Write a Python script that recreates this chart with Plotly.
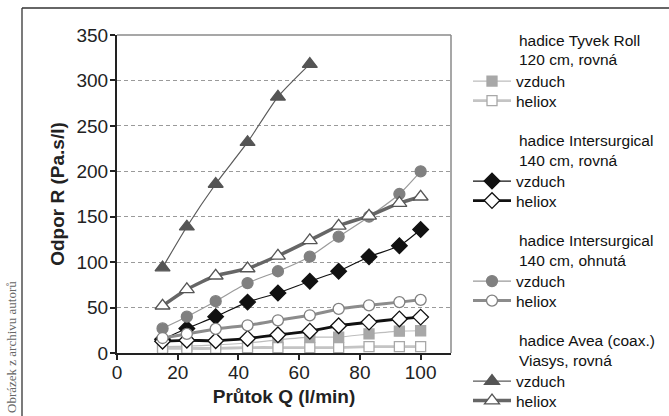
import plotly.graph_objects as go

# ---------------- data ----------------
flow = [15, 23, 32.5, 43, 53, 63.5, 73, 83, 93, 100]
flow_avea_air = [15, 23, 32.5, 43, 53, 63.5]

tyvek_air = [7, 7.5, 9, 11, 14.5, 17.5, 17.5, 21, 24, 24.5]
tyvek_heliox = [5, 5, 5, 6, 6, 6, 6, 7, 7, 7]
inter_straight_air = [15, 27, 40, 56, 66, 79, 90, 106, 118, 136]
inter_straight_heliox = [13, 14, 13.5, 16, 20, 24, 30, 34, 37.5, 39.5]
inter_bent_air = [27, 40, 57, 77, 90, 106, 128, 150, 175, 200]
inter_bent_heliox = [16.5, 21, 26.5, 30.5, 36, 41.5, 48.5, 52.5, 56, 58.5]
avea_air = [94, 139, 186, 232, 282, 318]
avea_heliox = [52, 70, 85, 93, 107, 124, 140, 151, 165, 172]

group_titles = [
    ("hadice Tyvek Roll", "120 cm, rovná"),
    ("hadice Intersurgical", "140 cm, rovná"),
    ("hadice Intersurgical", "140 cm, ohnutá"),
    ("hadice Avea (coax.)", "Viasys, rovná"),
]
x_ticks = [0, 20, 40, 60, 80, 100]
y_ticks = [0, 50, 100, 150, 200, 250, 300, 350]

# ---------------- layout geometry (pixels) ----------------
W, H = 669, 416
PL, PR, PT, PB = 117, 451, 35, 353

def px_x(p):
    return (p - PL) / (PR - PL)

def px_y(p):
    return (PB - p) / (PB - PT)

LEG = "Liberation Sans Narrow, Arial Narrow, Liberation Sans, Arial, sans-serif"
SANS = "Liberation Sans, Arial, Helvetica, sans-serif"
LEG_SIZE = 15.5

series = [
    # name, x, y, symbol, marker fill, marker line, line color, line width, msize
    ("vzduch", flow, tyvek_air, "square", "#a8a8a8", "#a8a8a8", "#bdbdbd", 1.2, 10),
    ("heliox", flow, tyvek_heliox, "square", "white", "#a8a8a8", "#c4c4c4", 2.8, 10),
    ("vzduch", flow, inter_straight_air, "diamond", "#111111", "#111111", "#111111", 1.2, 12),
    ("heliox", flow, inter_straight_heliox, "diamond", "white", "#111111", "#111111", 2.8, 12),
    ("vzduch", flow, inter_bent_air, "circle", "#808080", "#808080", "#9a9a9a", 1.2, 11),
    ("heliox", flow, inter_bent_heliox, "circle", "white", "#808080", "#8c8c8c", 3.0, 11),
    ("vzduch", flow_avea_air, avea_air, "triangle-up", "#555555", "#555555", "#5a5a5a", 1.2, 13),
    ("heliox", flow, avea_heliox, "triangle-up", "white", "#555555", "#666666", 3.5, 13),
]

fig = go.Figure()
legend_layouts = {}
for i, (name, xs, ys, sym, fill, mline, lcol, lw, ms) in enumerate(series):
    lname = "legend" if i == 0 else f"legend{i + 1}"
    fig.add_trace(go.Scatter(
        x=xs, y=ys, name=name, mode="lines+markers",
        line=dict(color=lcol, width=lw, shape="spline", smoothing=0.6),
        marker=dict(symbol=sym, size=ms, color=fill, line=dict(color=mline, width=1.3)),
        legend=lname, showlegend=True,
    ))
    group = i // 2
    yc = 81.5 + 100 * group + (19.5 if i % 2 else 0)
    legend_layouts[lname] = dict(
        xref="container", yref="container",
        x=468 / W, xanchor="left", y=1 - yc / H, yanchor="middle",
        font=dict(family=LEG, size=LEG_SIZE, color="#111"),
        bgcolor="rgba(0,0,0,0)", borderwidth=0, itemwidth=38,
        itemclick=False, itemdoubleclick=False,
    )

annotations = []
for g, (l1, l2) in enumerate(group_titles):
    for j, t in enumerate((l1, l2)):
        annotations.append(dict(
            text=t, xref="paper", yref="paper", x=px_x(517), y=px_y(40 + 100 * g + 20 * j),
            xanchor="left", yanchor="middle", showarrow=False,
            font=dict(family=LEG, size=LEG_SIZE, color="#111"),
        ))
annotations.append(dict(
    text="Obrázek z archivu autorů", xref="paper", yref="paper",
    x=px_x(11), y=px_y(415), xanchor="center", yanchor="bottom", textangle=-90,
    showarrow=False, font=dict(family="Liberation Serif, Times New Roman, serif", size=13, color="#666"),
))

shapes = [
    # plot frame (top & right, gray)
    dict(type="line", xref="paper", yref="paper", x0=0, x1=1, y0=1, y1=1, line=dict(color="#8a8a8a", width=1.5)),
    dict(type="line", xref="paper", yref="paper", x0=1, x1=1, y0=0, y1=1, line=dict(color="#8a8a8a", width=1.5)),
    # outer figure frame
    dict(type="line", xref="paper", yref="paper", x0=px_x(22), x1=px_x(W + 5), y0=px_y(8), y1=px_y(8), line=dict(color="#333", width=1.3)),
    dict(type="line", xref="paper", yref="paper", x0=px_x(22), x1=px_x(22), y0=px_y(8), y1=px_y(H + 5), line=dict(color="#333", width=1.3)),
]

fig.update_layout(
    width=W, height=H, autosize=False,
    margin=dict(l=PL, r=W - PR, t=PT, b=H - PB, pad=0),
    paper_bgcolor="white", plot_bgcolor="white",
    showlegend=True,
    annotations=annotations, shapes=shapes,
    font=dict(family=SANS, color="#222"),
    **legend_layouts,
)
fig.update_xaxes(
    range=[0, 110], tickvals=x_ticks, ticks="outside", ticklen=5, tickwidth=1.5, tickcolor="#222",
    showline=True, linecolor="#222", linewidth=2, showgrid=False, zeroline=False,
    tickfont=dict(family=SANS, size=19, color="#222"), ticklabelstandoff=-4,
    title=dict(text="<b>Průtok Q (l/min)</b>", font=dict(family=SANS, size=19, color="#222"), standoff=8),
    automargin=False,
)
fig.update_yaxes(
    range=[0, 350], tickvals=y_ticks, ticks="outside", ticklen=5, tickwidth=1.5, tickcolor="#222",
    showline=True, linecolor="#222", linewidth=2, zeroline=False,
    showgrid=True, gridcolor="#9a9a9a", gridwidth=1, griddash="4px,3px",
    tickfont=dict(family=SANS, size=19, color="#222"), ticklabelstandoff=-2,
    title=dict(text="<b>Odpor R (Pa.s/l)</b>", font=dict(family=SANS, size=19, color="#222"), standoff=7),
    automargin=False,
)

fig.write_html("out.html")
